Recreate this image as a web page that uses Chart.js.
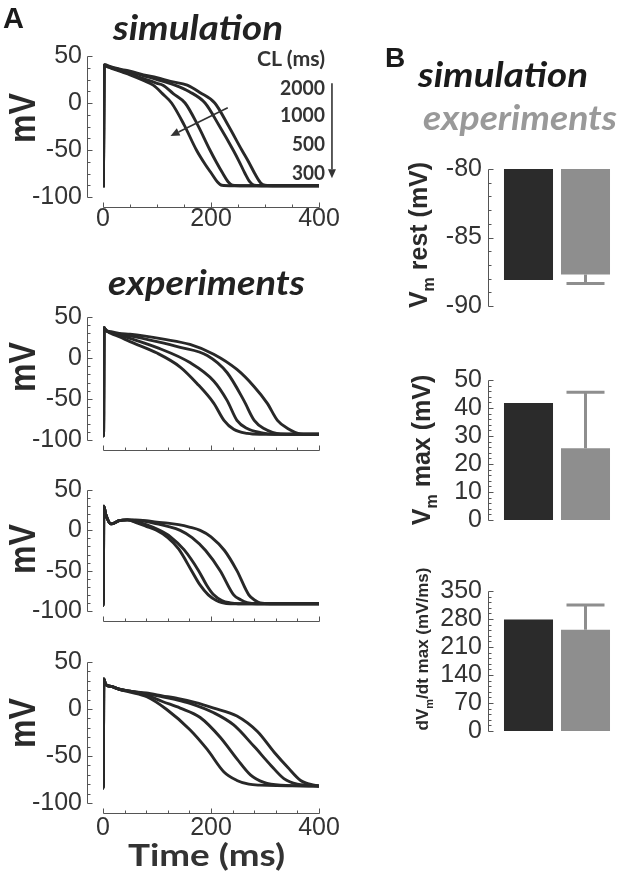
<!DOCTYPE html>
<html><head><meta charset="utf-8">
<script src="https://cdn.jsdelivr.net/npm/chart.js@4.4.1/dist/chart.umd.min.js"></script>
<style>
html,body{margin:0;padding:0;background:#fff;}
#wrap{position:relative;width:620px;height:879px;overflow:hidden;background:#fff;}
canvas{position:absolute;}
svg{position:absolute;left:0;top:0;}
</style></head><body><div id="wrap">
<canvas id="sim" width="360" height="217" style="left:0;top:20px"></canvas>
<canvas id="exp1" width="360" height="195" style="left:0;top:281px"></canvas>
<canvas id="exp2" width="360" height="193" style="left:0;top:454px"></canvas>
<canvas id="exp3" width="360" height="217" style="left:0;top:626px"></canvas>
<canvas id="rest" width="240" height="203" style="left:380px;top:136px"></canvas>
<canvas id="peak" width="240" height="206" style="left:380px;top:347px"></canvas>
<canvas id="dvdt" width="240" height="206" style="left:380px;top:558px"></canvas>
<svg width="620" height="879" font-family="Liberation Sans, Arial, sans-serif">
  <text x="3" y="28" font-size="29" font-weight="bold" fill="#1a1a1a">A</text>
  <text x="113" y="40" font-family="Lato" font-style="italic" font-weight="bold" font-size="35" textLength="170" lengthAdjust="spacingAndGlyphs" fill="#222">simulation</text>
  <text x="108" y="295" font-family="Lato" font-style="italic" font-weight="bold" font-size="35" textLength="197" lengthAdjust="spacingAndGlyphs" fill="#222">experiments</text>
  <g font-family="Lato" font-weight="bold" font-size="21" fill="#333">
    <text x="257" y="66" textLength="68" lengthAdjust="spacingAndGlyphs">CL (ms)</text>
    <text x="280" y="95" textLength="45" lengthAdjust="spacingAndGlyphs">2000</text>
    <text x="280" y="122" textLength="45" lengthAdjust="spacingAndGlyphs">1000</text>
    <text x="292" y="151" textLength="33" lengthAdjust="spacingAndGlyphs">500</text>
    <text x="292" y="180" textLength="33" lengthAdjust="spacingAndGlyphs">300</text>
  </g>
  <g font-size="37" font-weight="bold" fill="#2a2a2a">
    <text transform="translate(35,143) rotate(-90)" textLength="50" lengthAdjust="spacingAndGlyphs">mV</text>
    <text transform="translate(35,392) rotate(-90)" textLength="50" lengthAdjust="spacingAndGlyphs">mV</text>
    <text transform="translate(35,574) rotate(-90)" textLength="50" lengthAdjust="spacingAndGlyphs">mV</text>
    <text transform="translate(35,748) rotate(-90)" textLength="50" lengthAdjust="spacingAndGlyphs">mV</text>
  </g>
  <text x="128" y="866" font-family="Lato" font-weight="bold" font-size="30" textLength="157" lengthAdjust="spacingAndGlyphs" fill="#333">Time (ms)</text>
  <text x="385" y="67" font-size="28" font-weight="bold" fill="#1a1a1a">B</text>
  <text x="418" y="87" font-family="Lato" font-style="italic" font-weight="bold" font-size="35" textLength="170" lengthAdjust="spacingAndGlyphs" fill="#1a1a1a">simulation</text>
  <text x="423" y="130" font-family="Lato" font-style="italic" font-weight="bold" font-size="35" textLength="194" lengthAdjust="spacingAndGlyphs" fill="#999">experiments</text>
  <g font-weight="bold" fill="#2a2a2a" text-anchor="middle">
    <text transform="translate(427,235) rotate(-90)" font-size="25">V<tspan font-size="16" dy="7">m</tspan><tspan dy="-7"> rest (mV)</tspan></text>
    <text transform="translate(430,450) rotate(-90)" font-size="25">V<tspan font-size="16" dy="7">m</tspan><tspan dy="-7"> max (mV)</tspan></text>
    <text transform="translate(428,649) rotate(-90)" font-size="17">dV<tspan font-size="11" dy="5">m</tspan><tspan dy="-5">/dt max (mV/ms)</tspan></text>
  </g>
</svg>
</div>
<script>
// ---------- data ----------
const CL = [2000, 1000, 500, 300];           // pacing cycle lengths (ms)
const xTicksA = [0, 200, 400];
const yTicksA = [-100, -50, 0, 50];

const simTime = [
  [0,0.8,2,3,10,20,35,50,75,100,125,156,180,207,232,257,270,281,292,300,320,400],
  [0,0.8,2,3,10,20,35,50,75,100,133,160,189,215,241,252,263,272,280,300,400],
  [0,0.8,2,3,10,20,35,50,75,100,111,130,152,175,198,210,222,232,240,260,400],
  [0,0.8,2,3,10,20,35,50,75,93,110,127,150,173,190,201,212,220,240,400]
];
const simVolt = [
  [-88,-88,38,41,39.5,37.5,35.5,34,30,27,23,19,11,0,-24,-50,-63,-75,-85,-87.5,-88,-88],
  [-88,-88,38,40,39,37,35,33,29,25,19,12,0,-24,-50,-62,-75,-84,-87.5,-88,-88],
  [-88,-88,38,40,38.5,36.5,34,31,26,21,19,10,0,-23,-50,-63,-75,-84,-87.5,-88,-88],
  [-88,-88,38,40,38,36,33,30,24,19,10,0,-23,-50,-66,-75,-84,-87.5,-88,-88]
];

const exp1Time = [
  [0,1,2,5,15,30,50,75,112,161,205,248,280,304,323,342,366,400],
  [0,1,2,5,15,30,50,100,143,193,230,261,280,298,329,400],
  [0,1,2,5,15,30,50,99,161,205,230,248,267,292,317,400],
  [0,1,2,5,15,30,50,100,143,174,205,224,242,267,290,400]
];
const exp1Volt = [
  [-95,-95,37,34,32,30,29,27,23,16.5,4.6,-14,-35,-55,-76,-86,-92.5,-93],
  [-95,-95,37,34,31,29,27,20,13,3,-18,-52,-76,-86,-92.5,-93],
  [-95,-95,37,34,31,28,24,13,-5.6,-28,-52,-76,-86,-91,-93,-93],
  [-95,-95,37,34,30,26,20,6,-11,-31,-55,-76,-87,-92,-93,-93]
];

const exp2Time = [
  [0,0.5,1.5,5,15,30,45,60,80,100,120,140,160,180,200,225,248,270,282,291,310,400],
  [0,0.5,1.5,5,15,30,45,60,80,100,120,143,165,190,217,242,255,267,285,400],
  [0,0.5,1.5,5,15,30,45,60,80,105,125,150,177,192,205,220,236,250,400],
  [0,0.5,1.5,5,15,30,45,60,80,99,120,140,164,180,195,210,220,236,400]
];
const exp2Volt = [
  [-93,-93,30,20,8,12,13,13,12,10,9,7,4,0,-8,-25,-50,-80,-87,-90,-91,-91],
  [-93,-93,30,20,8,12,13,12,11,8,5,0,-9,-25,-50,-80,-86,-89.5,-91,-91],
  [-93,-93,30,20,8,12,13,11,7,0,-8,-24,-50,-68,-80,-87,-90,-91,-91],
  [-93,-93,30,20,8,12,13,10,5,0,-9,-23,-50,-68,-80,-87,-89.5,-91,-91]
];

const exp3Time = [
  [0,0.5,1.5,5,15,30,50,80,110,140,170,205,248,286,317,342,366,391,400],
  [0,0.5,1.5,5,15,30,50,80,110,135,161,205,242,280,311,335,360,380,400],
  [0,0.5,1.5,5,15,30,50,80,110,143,180,217,248,273,298,329,400],
  [0,0.5,1.5,5,15,30,50,81,118,161,193,224,248,270,290,400]
];
const exp3Volt = [
  [-84,-84,32,26,24,21,19,17,14,11,7,1,-7.5,-24,-46,-62,-76,-81,-82],
  [-84,-84,32,26,24,21,19,16,13,10,6,-4,-17,-40,-60,-74,-80,-81,-82],
  [-84,-84,32,26,24,21,19,15,8,1,-9,-30,-53,-70,-78,-81,-82],
  [-84,-84,32,26,24,21,18,13,-0.5,-22,-43,-67,-76,-80,-81,-82]
];

// annotation arrows in data units [t0, v0, t1, v1]
const arrowMarks = [[231,-5,125,-35],[424,21,424,-80]];

// panel B
const barGroups = ['simulation', 'experiments'];
const restMean = [-88.1, -87.7], restSD = [null, 0.65], restBase = -80;
const peakMean = [41.8, 25.6], peakSD = [null, 20];
const dvdtMean = [279, 253], dvdtSD = [null, 62];
const restTicks = [-90, -85, -80];
const peakTicks = [0, 10, 20, 30, 40, 50];
const dvdtTicks = [0, 70, 140, 210, 280, 350];

// ---------- plugins ----------
const mAxes = {
  id: 'mAxes',
  afterDraw(chart, args, o) {
    const {ctx, chartArea: a} = chart;
    const ys = chart.scales.y;
    ctx.save();
    ctx.strokeStyle = o.color || '#555';
    ctx.lineWidth = 1;
    ctx.beginPath();
    const ax = Math.round(a.left - o.yGap) + 0.5;
    const yTop = Math.round(ys.getPixelForValue(ys.max)) + 0.5;
    const yBot = Math.round(ys.getPixelForValue(ys.min)) + 0.5;
    ctx.moveTo(ax, yTop); ctx.lineTo(ax, yBot);
    const majors = ys.ticks.map(t => t.value);
    const n = Math.round((ys.max - ys.min) / o.yMinor);
    for (let i = 0; i <= n; i++) {
      const v = ys.min + i * o.yMinor;
      const p = Math.round(ys.getPixelForValue(v)) + 0.5;
      const maj = majors.some(m => Math.abs(m - v) < 1e-6);
      ctx.moveTo(ax, p); ctx.lineTo(ax + (maj ? o.major : o.minor), p);
    }
    if (o.xGap != null) {
      const xs = chart.scales.x;
      const ay = Math.round(a.bottom + o.xGap) + 0.5;
      const x0 = Math.round(xs.getPixelForValue(xs.min)) + 0.5;
      const x1 = Math.round(xs.getPixelForValue(xs.max)) + 0.5;
      ctx.moveTo(x0, ay); ctx.lineTo(x1, ay);
      const xm = xs.ticks.map(t => t.value);
      const nx = Math.round((xs.max - xs.min) / o.xMinor);
      for (let i = 0; i <= nx; i++) {
        const v = xs.min + i * o.xMinor;
        const p = Math.round(xs.getPixelForValue(v)) + 0.5;
        const maj = xm.some(m => Math.abs(m - v) < 1e-6);
        ctx.moveTo(p, ay); ctx.lineTo(p, ay - (maj ? o.major : o.minor));
      }
    }
    ctx.stroke();
    ctx.restore();
  }
};

const arrows = {
  id: 'arrows',
  afterDraw(chart, args, o) {
    if (!o.list) return;
    const {ctx} = chart; const xs = chart.scales.x, ys = chart.scales.y;
    ctx.save();
    ctx.strokeStyle = '#333'; ctx.fillStyle = '#333'; ctx.lineWidth = 1.6;
    o.list.forEach(([t0, v0, t1, v1]) => {
      const x0 = xs.getPixelForValue(t0), y0 = ys.getPixelForValue(v0);
      const x1 = xs.getPixelForValue(t1), y1 = ys.getPixelForValue(v1);
      const ang = Math.atan2(y1 - y0, x1 - x0);
      const L = 9, W = 4;
      const bx = x1 - L * Math.cos(ang), by = y1 - L * Math.sin(ang);
      ctx.beginPath(); ctx.moveTo(x0, y0); ctx.lineTo(bx, by); ctx.stroke();
      ctx.beginPath();
      ctx.moveTo(x1, y1);
      ctx.lineTo(bx + W * Math.sin(ang), by - W * Math.cos(ang));
      ctx.lineTo(bx - W * Math.sin(ang), by + W * Math.cos(ang));
      ctx.closePath(); ctx.fill();
    });
    ctx.restore();
  }
};

const errBars = {
  id: 'errBars',
  afterDatasetsDraw(chart, args, o) {
    const {ctx} = chart; const meta = chart.getDatasetMeta(0); const ys = chart.scales.y;
    ctx.save();
    ctx.strokeStyle = o.color; ctx.lineWidth = 3;
    o.sd.forEach((sd, i) => {
      if (sd == null) return;
      const m = o.mean[i];
      const dir = Math.sign(m - o.base);
      const end = m + dir * sd;
      const x = meta.data[i].x;
      const y0 = ys.getPixelForValue(m), y1 = ys.getPixelForValue(end);
      ctx.beginPath();
      ctx.moveTo(x, y0); ctx.lineTo(x, y1);
      ctx.moveTo(x - o.cap / 2, y1); ctx.lineTo(x + o.cap / 2, y1);
      ctx.stroke();
    });
    ctx.restore();
  }
};

const tickFont = {family: 'Liberation Sans, Arial, sans-serif', size: 25};
const tickColor = '#333';
const setTicks = arr => s => { s.ticks = arr.map(v => ({value: v})); };

function makeAP(id, times, volts, opt) {
  const datasets = times.map((t, i) => ({
    label: 'CL ' + CL[i] + ' ms',
    data: t.map((x, j) => ({x: x, y: volts[i][j]})),
    borderColor: '#282828', borderWidth: 2.9, pointRadius: 0,
    cubicInterpolationMode: 'monotone', fill: false
  }));
  return new Chart(document.getElementById(id), {
    type: 'line',
    data: {datasets},
    options: {
      responsive: false, animation: false, events: [],
      layout: {padding: {left: 0, top: 30, right: 41, bottom: 0}},
      plugins: {
        legend: {display: false}, tooltip: {enabled: false},
        mAxes: {yGap: 16, xGap: 10, yMinor: opt.yMinor, xMinor: opt.xMinor, major: 5, minor: 3, color: '#555'},
        arrows: {list: opt.arrows}
      },
      scales: {
        x: {type: 'linear', min: 0, max: 400, afterBuildTicks: setTicks(xTicksA),
            afterFit: s => { s.height = opt.xh; },
            grid: {display: false, drawTicks: false}, border: {display: false},
            ticks: {display: opt.xLabels, padding: opt.xPad || 7, font: tickFont, color: tickColor, maxRotation: 0, autoSkip: false}},
        y: {type: 'linear', min: -100, max: 50, afterBuildTicks: setTicks(yTicksA),
            afterFit: s => { s.width = 103; },
            grid: {display: false, drawTicks: false}, border: {display: false},
            ticks: {padding: 21, font: tickFont, color: tickColor, autoSkip: false}}
      }
    },
    plugins: [mAxes, arrows]
  });
}

function makeBar(id, mean, sd, base, min, max, ticks, minor) {
  return new Chart(document.getElementById(id), {
    type: 'bar',
    data: {labels: barGroups, datasets: [{
      data: mean.map(m => [base, m]),
      backgroundColor: ['#2b2b2b', '#8e8e8e'], borderWidth: 0,
      barPercentage: 0.86, categoryPercentage: 1
    }]},
    options: {
      responsive: false, animation: false, events: [],
      layout: {padding: {left: 0, top: 30, right: 6, bottom: 30}},
      plugins: {
        legend: {display: false}, tooltip: {enabled: false},
        mAxes: {yGap: 12, yMinor: minor, major: 5, minor: 3, color: '#555'},
        errBars: {mean, sd, base, cap: 38, color: '#8e8e8e'}
      },
      scales: {
        x: {display: false},
        y: {min, max, afterBuildTicks: setTicks(ticks),
            afterFit: s => { s.width = 120; },
            grid: {display: false, drawTicks: false}, border: {display: false},
            ticks: {padding: 18, font: tickFont, color: tickColor, autoSkip: false}}
      }
    },
    plugins: [mAxes, errBars]
  });
}

makeAP('sim', simTime, simVolt, {xh: 40, xLabels: true, xPad: 7, yMinor: 12.5, xMinor: 50, arrows: arrowMarks});
makeAP('exp1', exp1Time, exp1Volt, {xh: 18, xLabels: false, yMinor: 10, xMinor: 40});
makeAP('exp2', exp2Time, exp2Volt, {xh: 18, xLabels: false, yMinor: 10, xMinor: 40});
makeAP('exp3', exp3Time, exp3Volt, {xh: 40, xLabels: true, xPad: 10, yMinor: 10, xMinor: 40});

makeBar('rest', restMean, restSD, restBase, -90, -80, restTicks, 1);
makeBar('peak', peakMean, peakSD, 0, 0, 50, peakTicks, 2);
makeBar('dvdt', dvdtMean, dvdtSD, 0, 0, 350, dvdtTicks, 14);
</script>
</body></html>
